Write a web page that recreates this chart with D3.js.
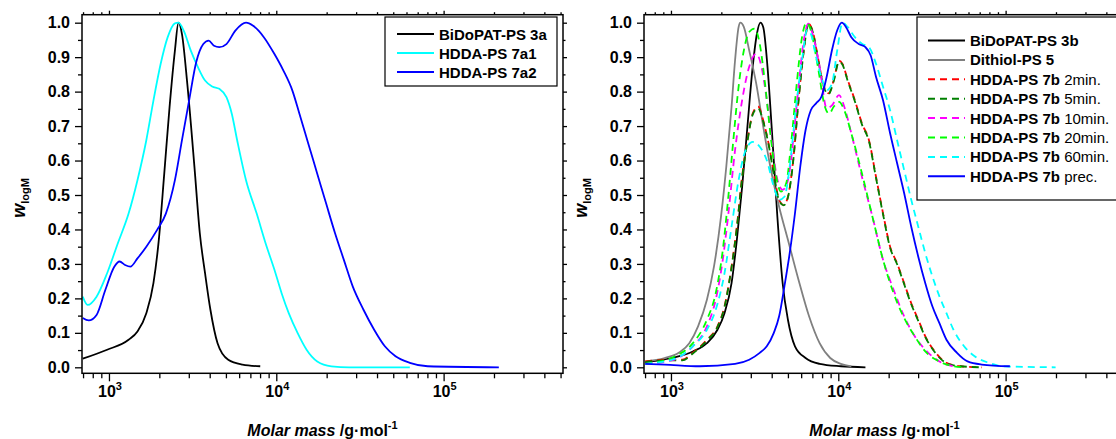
<!DOCTYPE html>
<html>
<head>
<meta charset="utf-8">
<script src="https://cdn.jsdelivr.net/npm/d3@7"></script>
<style>
body { margin: 0; background: #fff; }
svg { display: block; font-family: Arial, "Liberation Sans", sans-serif; }
</style>
</head>
<body>
<svg id="chart" width="1116" height="439"></svg>
<script>
'use strict';

// ---- left panel data (molar mass g/mol, w_logM) ----
const massBiDoPAT3a = [697, 975, 1310, 1480, 1672, 1844, 1985, 2140, 2302, 2478, 2602, 2731, 2938, 3243, 3491, 3752, 4039, 4456, 5161, 6281, 8018];
const wBiDoPAT3a    = [0.025, 0.051, 0.080, 0.104, 0.157, 0.244, 0.369, 0.562, 0.755, 0.919, 1.000, 0.967, 0.823, 0.581, 0.389, 0.273, 0.167, 0.070, 0.022, 0.008, 0.003];

const massHDDA7a1 = [697, 745, 843, 975, 1130, 1310, 1480, 1672, 1844, 2036, 2244, 2478, 2602, 2797, 3084, 3402, 3752, 4140, 4567, 5036, 5420, 5836, 6593, 7636, 8630, 9750, 10760, 11870, 13420, 15170, 17570, 21370, 27310, 62800];
const wHDDA7a1    = [0.205, 0.181, 0.205, 0.273, 0.360, 0.446, 0.543, 0.659, 0.774, 0.880, 0.958, 0.998, 1.000, 0.977, 0.919, 0.871, 0.832, 0.815, 0.808, 0.784, 0.736, 0.659, 0.543, 0.446, 0.360, 0.283, 0.215, 0.157, 0.099, 0.051, 0.017, 0.003, 0.000, 0.000];

const massHDDA7a2 = [697, 757, 843, 952, 1076, 1158, 1247, 1342, 1480, 1672, 1936, 2188, 2478, 2731, 3012, 3321, 3663, 3942, 4243, 4567, 5036, 5693, 6593, 7271, 8426, 9750, 11030, 12480, 13750, 15540, 17570, 19860, 22450, 25370, 28660, 33200, 38450, 44540, 51590, 62800, 80200, 213800];
const wHDDA7a2    = [0.143, 0.136, 0.152, 0.225, 0.292, 0.307, 0.297, 0.292, 0.316, 0.350, 0.398, 0.446, 0.543, 0.659, 0.774, 0.885, 0.938, 0.948, 0.933, 0.929, 0.938, 0.977, 1.000, 0.991, 0.958, 0.909, 0.861, 0.803, 0.736, 0.649, 0.562, 0.475, 0.389, 0.311, 0.234, 0.167, 0.109, 0.061, 0.032, 0.013, 0.003, 0.000];

// ---- right panel data ----
const massBiDoPAT3b = [702, 1010, 1351, 1640, 1897, 2089, 2302, 2476, 2663, 2863, 3079, 3264, 3425, 3561, 3775, 4020, 4324, 4650, 5000, 5510, 6372, 7735, 10350, 14530];
const wBiDoPAT3b    = [0.014, 0.027, 0.046, 0.070, 0.109, 0.157, 0.244, 0.370, 0.524, 0.698, 0.872, 0.968, 1.000, 0.987, 0.872, 0.679, 0.437, 0.244, 0.138, 0.061, 0.027, 0.010, 0.003, 0.000];

const massDithiol5 = [702, 916, 1113, 1287, 1452, 1640, 1807, 1991, 2141, 2302, 2416, 2536, 2598, 2728, 2934, 3233, 3561, 3925, 4430, 5000, 5783, 6688, 7735, 8950, 10350, 11970];
const wDithiol5    = [0.017, 0.027, 0.042, 0.070, 0.119, 0.196, 0.292, 0.437, 0.582, 0.756, 0.891, 0.987, 1.000, 0.987, 0.920, 0.823, 0.698, 0.582, 0.466, 0.370, 0.254, 0.148, 0.070, 0.027, 0.010, 0.003];

const mass7b2min = [702, 916, 1168, 1351, 1640, 1897, 2089, 2302, 2476, 2663, 2863, 3079, 3311, 3561, 3830, 4118, 4430, 4718, 5000, 5377, 5783, 6220, 6624, 7020, 7549, 8119, 8731, 9389, 10100, 10600, 11400, 12560, 13840, 15250, 16800, 18510, 20400, 22470, 24760, 27290, 30060, 33110, 38310, 44310, 53770, 71930];
const w7b2min    = [0.017, 0.022, 0.022, 0.042, 0.080, 0.119, 0.177, 0.292, 0.408, 0.553, 0.659, 0.736, 0.757, 0.716, 0.650, 0.563, 0.486, 0.471, 0.495, 0.601, 0.775, 0.920, 0.997, 0.977, 0.900, 0.823, 0.795, 0.833, 0.890, 0.880, 0.833, 0.775, 0.708, 0.659, 0.553, 0.447, 0.350, 0.302, 0.244, 0.186, 0.138, 0.090, 0.042, 0.013, 0.003, 0.000];

const mass7b5min = [702, 916, 1168, 1351, 1640, 1897, 2089, 2302, 2476, 2663, 2863, 3079, 3311, 3561, 3830, 4118, 4430, 4718, 5000, 5377, 5783, 6220, 6624, 7020, 7549, 8119, 8731, 9389, 10100, 10600, 11400, 12560, 13840, 15250, 16800, 18510, 20400, 22470, 24760, 27290, 30060, 33110, 38310, 44310, 53770, 71930];
const w7b5min    = [0.015, 0.020, 0.020, 0.040, 0.078, 0.117, 0.175, 0.290, 0.405, 0.550, 0.655, 0.733, 0.752, 0.713, 0.647, 0.560, 0.484, 0.470, 0.493, 0.598, 0.772, 0.918, 0.995, 0.975, 0.898, 0.820, 0.792, 0.830, 0.887, 0.878, 0.830, 0.772, 0.705, 0.656, 0.550, 0.444, 0.347, 0.299, 0.241, 0.183, 0.135, 0.088, 0.040, 0.012, 0.003, 0.000];

const mass7b10min = [702, 1010, 1351, 1640, 1851, 2040, 2193, 2416, 2663, 2934, 3233, 3475, 3738, 4020, 4324, 4650, 5000, 5377, 5783, 6220, 6624, 7020, 7735, 8522, 9165, 10100, 10860, 11960, 13840, 16000, 18510, 21410, 24760, 28640, 33110, 40210, 48810];
const w7b10min    = [0.010, 0.020, 0.061, 0.119, 0.196, 0.312, 0.437, 0.630, 0.775, 0.872, 0.910, 0.872, 0.775, 0.650, 0.545, 0.515, 0.543, 0.659, 0.814, 0.949, 0.997, 0.968, 0.872, 0.752, 0.760, 0.790, 0.756, 0.679, 0.553, 0.437, 0.312, 0.225, 0.148, 0.090, 0.051, 0.017, 0.003];

const mass7b20min = [702, 1060, 1351, 1640, 1851, 2040, 2193, 2359, 2536, 2728, 2934, 3155, 3392, 3649, 3925, 4220, 4539, 4881, 5248, 5645, 6070, 6466, 6852, 7549, 8318, 8816, 9389, 10100, 10860, 11960, 13840, 16000, 18510, 21410, 24760, 28640, 33110, 40210, 48810, 56450];
const w7b20min    = [0.010, 0.032, 0.070, 0.138, 0.215, 0.340, 0.486, 0.659, 0.814, 0.920, 0.973, 0.983, 0.939, 0.823, 0.679, 0.563, 0.510, 0.534, 0.659, 0.823, 0.958, 1.000, 0.978, 0.872, 0.756, 0.736, 0.756, 0.770, 0.746, 0.679, 0.563, 0.437, 0.312, 0.215, 0.143, 0.090, 0.046, 0.017, 0.003, 0.000];

const mass7b60min = [702, 1060, 1351, 1640, 1851, 2089, 2302, 2536, 2795, 3079, 3392, 3738, 4118, 4430, 4764, 5123, 5510, 6070, 6528, 6852, 7368, 7925, 8522, 9165, 9856, 10600, 11400, 12560, 13840, 15250, 16800, 18510, 20400, 22470, 24760, 27290, 30060, 33110, 36490, 40210, 44310, 48810, 56450, 65280, 79250, 96200, 199000];
const w7b60min    = [0.010, 0.025, 0.061, 0.109, 0.167, 0.273, 0.408, 0.543, 0.630, 0.654, 0.640, 0.601, 0.524, 0.486, 0.495, 0.582, 0.727, 0.891, 0.980, 0.968, 0.900, 0.843, 0.804, 0.823, 0.920, 1.000, 0.987, 0.958, 0.939, 0.929, 0.881, 0.814, 0.746, 0.659, 0.572, 0.486, 0.408, 0.331, 0.264, 0.206, 0.157, 0.109, 0.061, 0.032, 0.013, 0.003, 0.000];

const mass7bPrec = [702, 916, 1488, 2416, 2934, 3392, 3738, 4118, 4430, 4764, 5123, 5510, 5925, 6372, 6852, 7368, 7925, 8522, 9165, 9856, 10497, 11130, 11960, 13180, 14530, 15620, 16800, 18510, 20400, 22470, 24760, 27290, 30060, 33110, 36490, 40210, 44310, 51230, 59250, 71930, 106000];
const w7bPrec    = [0.010, 0.008, 0.003, 0.010, 0.022, 0.042, 0.061, 0.100, 0.148, 0.235, 0.331, 0.447, 0.582, 0.688, 0.746, 0.766, 0.785, 0.843, 0.920, 0.978, 1.000, 0.987, 0.958, 0.939, 0.929, 0.905, 0.843, 0.775, 0.679, 0.592, 0.505, 0.408, 0.321, 0.244, 0.177, 0.128, 0.080, 0.042, 0.017, 0.008, 0.003];

// ticks
const yMajor = [0, 0.1, 0.2, 0.3, 0.4, 0.5, 0.6, 0.7, 0.8, 0.9, 1.0];
const xMajor = [1e3, 1e4, 1e5];
const xMajorExp = ['3', '4', '5'];

function zip(ms, ws) { return ms.map((m, i) => [m, ws[i]]); }

const leftSeries = [
    { name: 'BiDoPAT-PS 3a', extra: '', color: '#000000', dash: null, data: zip(massBiDoPAT3a, wBiDoPAT3a) },
    { name: 'HDDA-PS 7a1', extra: '', color: '#00ffff', dash: null, data: zip(massHDDA7a1, wHDDA7a1) },
    { name: 'HDDA-PS 7a2', extra: '', color: '#0000ff', dash: null, data: zip(massHDDA7a2, wHDDA7a2) }
];

const rightSeries = [
    { name: 'BiDoPAT-PS 3b', extra: '', color: '#000000', dash: null, data: zip(massBiDoPAT3b, wBiDoPAT3b) },
    { name: 'Dithiol-PS 5', extra: '', color: '#808080', dash: null, data: zip(massDithiol5, wDithiol5) },
    { name: 'HDDA-PS 7b', extra: ' 2min.', color: '#ff0000', dash: '7,5', data: zip(mass7b2min, w7b2min) },
    { name: 'HDDA-PS 7b', extra: ' 5min.', color: '#008000', dash: '7,5', data: zip(mass7b5min, w7b5min) },
    { name: 'HDDA-PS 7b', extra: ' 10min.', color: '#ff00ff', dash: '7,5', data: zip(mass7b10min, w7b10min) },
    { name: 'HDDA-PS 7b', extra: ' 20min.', color: '#00ff00', dash: '7,5', data: zip(mass7b20min, w7b20min) },
    { name: 'HDDA-PS 7b', extra: ' 60min.', color: '#00ffff', dash: '7,5', data: zip(mass7b60min, w7b60min) },
    { name: 'HDDA-PS 7b', extra: ' prec.', color: '#0000ff', dash: null, data: zip(mass7bPrec, w7bPrec) }
];

const svg = d3.select('#chart');
const plotW = 481;
const frameTop = 14.7, frameBottom = 373.3;

const x = d3.scaleLog().domain([690, 517000]).range([0, plotW]);
const y = d3.scaleLinear().domain([-0.0174, 1.0232]).range([frameBottom, frameTop]);

function xMinorValues()
{
    const out = [];
    for (let e = 2; e <= 5; e++)
        for (let k = 1; k <= 9; k++)
        {
            const v = k * Math.pow(10, e);
            if (v >= 700 && v <= 517000 && xMajor.indexOf(v) < 0) out.push(v);
        }
    return out;
}

function drawPanel(ox, id, series, legend)
{
    const g = svg.append('g').attr('transform', 'translate(' + ox + ',0)');

    g.append('clipPath').attr('id', 'clip' + id)
        .append('rect').attr('x', 0).attr('y', frameTop).attr('width', plotW).attr('height', frameBottom - frameTop);

    // y axis left
    const yMinor = d3.range(0.05, 1.0, 0.1);
    g.append('g').call(d3.axisLeft(y).tickValues(yMajor).tickFormat(d3.format('.1f')).tickSize(7).tickPadding(5))
        .call(a => a.select('.domain').remove())
        .selectAll('text').attr('font-size', 16).attr('font-weight', 'bold').attr('fill', '#000')
        .attr('font-family', 'Arial, "Liberation Sans", sans-serif');
    g.append('g').call(d3.axisLeft(y).tickValues(yMinor).tickFormat('').tickSize(4))
        .call(a => a.select('.domain').remove());
    // y axis right (mirror)
    g.append('g').attr('transform', 'translate(' + plotW + ',0)')
        .call(d3.axisRight(y).tickValues(yMajor).tickFormat('').tickSize(4))
        .call(a => a.select('.domain').remove());
    g.append('g').attr('transform', 'translate(' + plotW + ',0)')
        .call(d3.axisRight(y).tickValues(yMinor).tickFormat('').tickSize(2.5))
        .call(a => a.select('.domain').remove());

    // x axis bottom
    g.append('g').attr('transform', 'translate(0,' + frameBottom + ')')
        .call(d3.axisBottom(x).tickValues(xMajor).tickFormat('').tickSize(8))
        .call(a => a.select('.domain').remove());
    g.append('g').attr('transform', 'translate(0,' + frameBottom + ')')
        .call(d3.axisBottom(x).tickValues(xMinorValues()).tickFormat('').tickSize(5))
        .call(a => a.select('.domain').remove());
    // x axis top (mirror)
    g.append('g').attr('transform', 'translate(0,' + frameTop + ')')
        .call(d3.axisTop(x).tickValues(xMajor).tickFormat('').tickSize(4))
        .call(a => a.select('.domain').remove());
    g.append('g').attr('transform', 'translate(0,' + frameTop + ')')
        .call(d3.axisTop(x).tickValues(xMinorValues()).tickFormat('').tickSize(2.5))
        .call(a => a.select('.domain').remove());

    g.selectAll('.tick line').attr('stroke', '#000').attr('stroke-width', 1.3);

    // x tick labels 10^n
    const lbl = g.selectAll('text.xlab').data(xMajor).enter().append('text')
        .attr('class', 'xlab')
        .attr('x', (d) => x(d) + 1)
        .attr('y', 397)
        .attr('text-anchor', 'middle')
        .attr('font-size', 16)
        .attr('font-weight', 'bold');
    lbl.append('tspan').text('10');
    lbl.append('tspan').attr('dy', -7).attr('font-size', 11).text((d, i) => xMajorExp[i]);

    // curves
    const line = d3.line().x((d) => x(d[0])).y((d) => y(d[1])).curve(d3.curveMonotoneX);
    g.append('g').attr('clip-path', 'url(#clip' + id + ')')
        .selectAll('path').data(series).enter().append('path')
        .attr('d', (d) => line(d.data))
        .attr('fill', 'none')
        .attr('stroke', (d) => d.color)
        .attr('stroke-width', 1.8)
        .attr('stroke-dasharray', (d) => d.dash);

    // frame
    g.append('rect').attr('x', 0).attr('y', frameTop).attr('width', plotW).attr('height', frameBottom - frameTop)
        .attr('fill', 'none').attr('stroke', '#000').attr('stroke-width', 1.5);

    // axis titles
    const yt = g.append('text').attr('transform', 'translate(-57,198) rotate(-90)')
        .attr('text-anchor', 'middle').attr('font-weight', 'bold');
    yt.append('tspan').attr('font-size', 18).attr('font-style', 'italic').text('w');
    yt.append('tspan').attr('font-size', 11).attr('dy', 4).text('logM');

    const xt = g.append('text').attr('x', plotW / 2).attr('y', 436)
        .attr('text-anchor', 'middle').attr('font-size', 16).attr('font-weight', 'bold');
    xt.append('tspan').attr('font-style', 'italic').text('Molar mass');
    xt.append('tspan').text(' /g\u00b7mol');
    xt.append('tspan').attr('dy', -7).attr('font-size', 11).text('-1');

    // legend
    const lg = g.append('g');
    lg.append('rect').attr('x', legend.x).attr('y', legend.y).attr('width', legend.w).attr('height', legend.h)
        .attr('fill', '#fff').attr('stroke', '#000').attr('stroke-width', 1.2);
    const row = lg.selectAll('g.row').data(series).enter().append('g')
        .attr('class', 'row')
        .attr('transform', (d, i) => 'translate(0,' + (legend.y0 + i * legend.dy) + ')');
    row.append('line')
        .attr('x1', legend.lx).attr('x2', legend.lx + 37)
        .attr('stroke', (d) => d.color).attr('stroke-width', 2)
        .attr('stroke-dasharray', (d) => d.dash);
    const t = row.append('text').attr('x', legend.lx + 42).attr('y', 5.5).attr('font-size', 15);
    t.append('tspan').attr('font-weight', 'bold').text((d) => d.name);
    t.append('tspan').text((d) => d.extra);
}

drawPanel(82, 'L', leftSeries, { x: 303, y: 17, w: 172, h: 69, y0: 34, dy: 19, lx: 315 });
drawPanel(644, 'R', rightSeries, { x: 273, y: 17, w: 205, h: 183, y0: 40.5, dy: 19.4, lx: 284 });
</script>
</body>
</html>
